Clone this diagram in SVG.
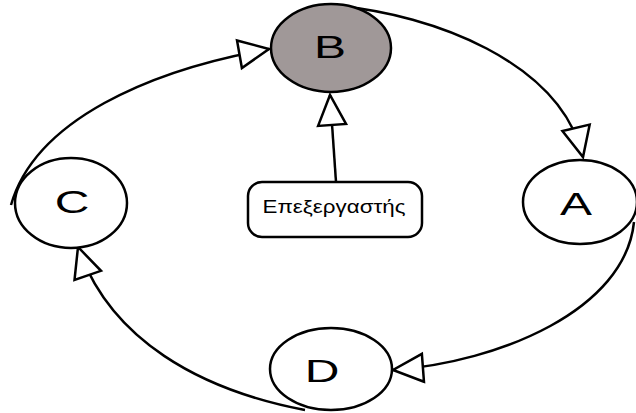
<svg xmlns="http://www.w3.org/2000/svg" width="636" height="413" viewBox="0 0 636 413">
<style>
.edge{fill:none;stroke:#000;stroke-width:2.5;marker-end:url(#tri)}
.node{fill:#fff;stroke:#000;stroke-width:2.5}
.lbl{font-family:"Liberation Sans",Arial,sans-serif;font-size:32px;fill:#000;text-anchor:middle}
.box{font-family:"Liberation Sans",Arial,sans-serif;font-size:18px;fill:#000;text-anchor:middle}
</style>
<defs>
<marker id="tri" markerUnits="userSpaceOnUse" markerWidth="36" markerHeight="36" refX="31" refY="16" orient="auto" overflow="visible">
<path d="M1,2 L31,16 L1,30 Z" fill="#fff" stroke="#000" stroke-width="2.5" stroke-linejoin="miter"/>
</marker>
</defs>
<rect width="636" height="413" fill="#fff"/>
<g id="connectors">
<path class="edge" d="M 11,205 C 35,120 150,70 269,49"/>
<path class="edge" d="M 340,6 C 430,15 560,60 583,157"/>
<path class="edge" d="M 634,222 C 625,310 500,362 393,370"/>
<path class="edge" d="M 305,410 C 200,390 110,340 78,247"/>
<path class="edge" d="M 336,182 L 330,95"/>
</g>
<g id="B">
<ellipse class="node" cx="331" cy="48" rx="60" ry="44" style="fill:#a09898"/>
<text class="lbl" transform="translate(330,58) scale(1.5,1)">B</text>
</g>
<g id="A">
<ellipse class="node" cx="580" cy="202" rx="57" ry="42"/>
<text class="lbl" transform="translate(576,215) scale(1.5,1)">A</text>
</g>
<g id="C">
<ellipse class="node" cx="71" cy="203" rx="56" ry="45"/>
<text class="lbl" transform="translate(72,213) scale(1.5,1)">C</text>
</g>
<g id="D">
<ellipse class="node" cx="331" cy="369" rx="61" ry="41"/>
<text class="lbl" transform="translate(322,382) scale(1.5,1)">D</text>
</g>
<g id="proc">
<rect class="node" x="248" y="182" width="174" height="55" rx="14" ry="14"/>
<text class="box" x="334" y="213" textLength="143" lengthAdjust="spacingAndGlyphs">Επεξεργαστής</text>
</g>
</svg>
